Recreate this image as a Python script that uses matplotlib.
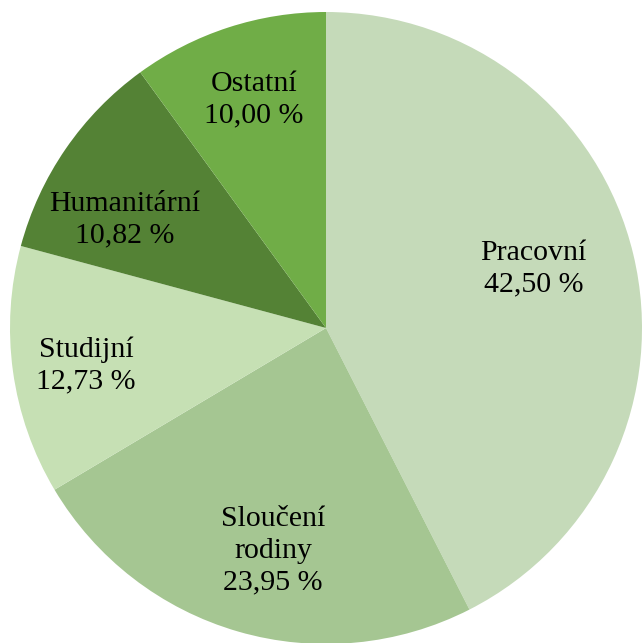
import numpy as np
import matplotlib.pyplot as plt

categories = ["Pracovní", "Sloučení\nrodiny", "Studijní", "Humanitární", "Ostatní"]
shares = [42.50, 23.95, 12.73, 10.82, 10.00]
colors = ["#c5dab9", "#a5c692", "#c6e0b4", "#548235", "#70ad47"]

labels = [f"{c}\n{v:.2f} %".replace(".", ",") for c, v in zip(categories, shares)]

# label placement (radius fraction, angle tweak in degrees) - like the original layout
label_r = [0.683, 0.725, 0.769, 0.722, 0.757]
label_turn = [2.4, 2.7, 1.0, 6.2, -0.5]

plt.rcParams["font.family"] = ["Liberation Serif", "DejaVu Serif"]

fig = plt.figure(figsize=(6.42, 6.43), dpi=100)
ax = fig.add_axes([0, 0, 1, 1])
wedges, texts = ax.pie(shares, labels=labels, colors=colors, startangle=90, counterclock=False,
                       labeldistance=0.72, wedgeprops=dict(linewidth=0),
                       textprops=dict(ha="center", va="center", fontsize=21.5,
                                      color="black", linespacing=1.3))
for w, t, r, turn in zip(wedges, texts, label_r, label_turn):
    mid = np.deg2rad((w.theta1 + w.theta2) / 2 + turn)
    t.set_position((r * np.cos(mid), r * np.sin(mid)))

# pie center ~ (326, 328) px, radius ~ 316 px
ax.set_xlim(-326 / 316, (642 - 326) / 316)
ax.set_ylim(-(643 - 328) / 316, 328 / 316)
ax.set_aspect("equal")
ax.axis("off")
fig.savefig("out.png", dpi=100)
